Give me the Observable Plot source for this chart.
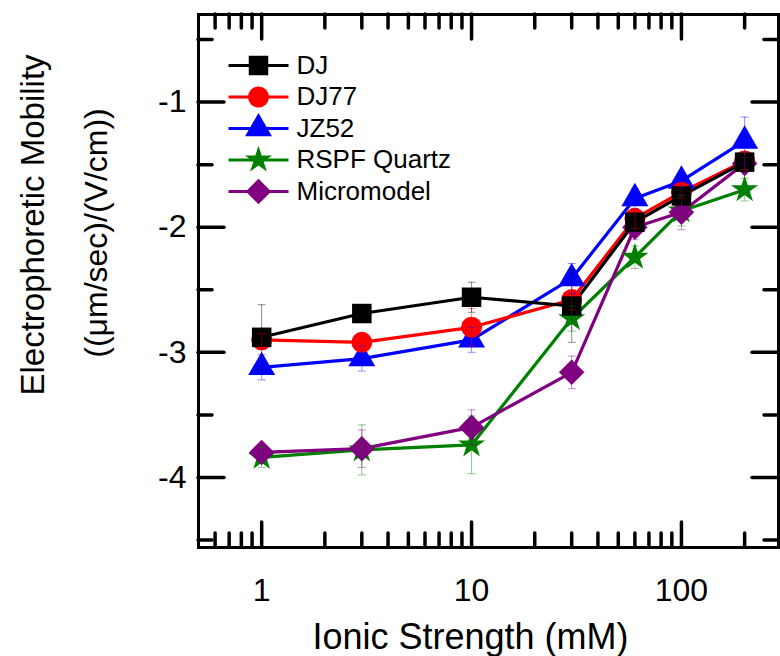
<!DOCTYPE html>
<html><head><meta charset="utf-8">
<script src="https://cdn.jsdelivr.net/npm/d3@7"></script>
<script src="https://cdn.jsdelivr.net/npm/@observablehq/plot@0.6"></script>
<style>body{margin:0;background:#fff;}</style>
</head><body><div id="chart"></div>
<script>
// ---- data ----
const ionicStrength = [1, 3, 10, 30, 60, 100, 200];
const seriesNames = ["DJ", "DJ77", "JZ52", "RSPF Quartz", "Micromodel"];
const mobilityDJ    = [-2.88, -2.69, -2.56, -2.63, -1.96, -1.75, -1.48];
const mobilityDJ77  = [-2.90, -2.92, -2.80, -2.58, -1.93, -1.72, -1.47];
const mobilityJZ52  = [-3.12, -3.05, -2.90, -2.41, -1.77, -1.63, -1.31];
const mobilityRSPF  = [-3.84, -3.78, -3.74, -2.73, -2.24, -1.87, -1.70];
const mobilityMicro = [-3.80, -3.77, -3.60, -3.16, -2.00, -1.88, -1.49];
const errDJ    = [0.26, 0.05, 0.12, 0.29, 0.06, 0.05, 0.05];
const errDJ77  = [0.05, 0.05, 0.15, 0.08, 0.08, 0.05, 0.07];
const errJZ52  = [0.10, 0.10, 0.10, 0.12, 0.08, 0.05, 0.19];
const errRSPF  = [0.08, 0.20, 0.23, 0.10, 0.09, 0.12, 0.09];
const errMicro = [0.05, 0.15, 0.14, 0.13, 0.10, 0.14, 0.05];
const xMajorTicks = [1, 10, 100];
const xMinorTicks = [0.6, 0.7, 0.8, 0.9, 2, 3, 4, 5, 6, 7, 8, 9, 20, 30, 40, 50, 60, 70, 80, 90, 200];
const yMajorTicks = [-1, -2, -3, -4];
const yMinorTicks = [-0.5, -1.5, -2.5, -3.5, -4.5];
const xTitle = "Ionic Strength (mM)";
const yTitle1 = "Electrophoretic Mobility";
const yTitle2 = "((\u03bcm/sec)/(V/cm))";

// ---- styling ----
const values = {"DJ": mobilityDJ, "DJ77": mobilityDJ77, "JZ52": mobilityJZ52, "RSPF Quartz": mobilityRSPF, "Micromodel": mobilityMicro};
const errs = {"DJ": errDJ, "DJ77": errDJ77, "JZ52": errJZ52, "RSPF Quartz": errRSPF, "Micromodel": errMicro};
const colors = {"DJ": "#000000", "DJ77": "#ff0000", "JZ52": "#0000ff", "RSPF Quartz": "#008000", "Micromodel": "#800080"};
const symbols = {"DJ": "square", "DJ77": "circle", "JZ52": "triangle", "RSPF Quartz": "star", "Micromodel": "diamond2"};
const sizes = {"DJ": 11, "DJ77": 10.5, "JZ52": 10, "RSPF Quartz": 8.5, "Micromodel": 11.5};
const drawOrder = ["JZ52", "DJ77", "RSPF Quartz", "Micromodel", "DJ"];

const rows = [];
for (const s of seriesNames) values[s].forEach((v, i) => rows.push({series: s, x: ionicStrength[i], y: v, err: errs[s][i]}));

const capSymbol = {draw(ctx) { ctx.moveTo(-4, 0); ctx.lineTo(4, 0); }};
const legendLine = {draw(ctx) { ctx.moveTo(-30, 0); ctx.lineTo(30, 0); }};

const W = 580, H = 533;
const font = "'Liberation Sans', Arial, Helvetica, sans-serif";

const marks = [];
for (const s of drawOrder) {
  const d = rows.filter(r => r.series === s);
  marks.push(Plot.line(d, {x: "x", y: "y", stroke: colors[s], strokeWidth: 3.2}));
}
for (const s of drawOrder) {
  const d = rows.filter(r => r.series === s);
  marks.push(Plot.dot(d, {x: "x", y: "y", symbol: symbols[s], r: sizes[s], fill: colors[s], stroke: null}));
}
for (const s of drawOrder) {
  const d = rows.filter(r => r.series === s);
  marks.push(Plot.ruleX(d, {x: "x", y1: r => r.y - r.err, y2: r => r.y + r.err, stroke: colors[s], strokeOpacity: 0.45, strokeWidth: 1}));
  marks.push(Plot.dot(d, {x: "x", y: r => r.y + r.err, symbol: capSymbol, stroke: colors[s], strokeOpacity: 0.45, strokeWidth: 1, fill: "none"}));
  marks.push(Plot.dot(d, {x: "x", y: r => r.y - r.err, symbol: capSymbol, stroke: colors[s], strokeOpacity: 0.45, strokeWidth: 1, fill: "none"}));
}
// inward ticks on all four sides
marks.push(
  Plot.tickX(xMajorTicks, {x: d => d, insetTop: H - 25, strokeWidth: 3.5, strokeLinecap: "round"}),
  Plot.tickX(xMinorTicks, {x: d => d, insetTop: H - 14, strokeWidth: 3.5, strokeLinecap: "round"}),
  Plot.tickX(xMajorTicks, {x: d => d, insetBottom: H - 25, strokeWidth: 3.5, strokeLinecap: "round"}),
  Plot.tickX(xMinorTicks, {x: d => d, insetBottom: H - 14, strokeWidth: 3.5, strokeLinecap: "round"}),
  Plot.tickY(yMajorTicks, {y: d => d, insetRight: W - 26, strokeWidth: 3.5, strokeLinecap: "round"}),
  Plot.tickY(yMinorTicks, {y: d => d, insetRight: W - 14, strokeWidth: 3.5, strokeLinecap: "round"}),
  Plot.tickY(yMajorTicks, {y: d => d, insetLeft: W - 26, strokeWidth: 3.5, strokeLinecap: "round"}),
  Plot.tickY(yMinorTicks, {y: d => d, insetLeft: W - 14, strokeWidth: 3.5, strokeLinecap: "round"}),
  Plot.frame({stroke: "black", strokeWidth: 3}),
  Plot.axisX({ticks: xMajorTicks, tickSize: 0, tickPadding: 31, fontSize: 32, tickFormat: d => String(d), label: null}),
  Plot.axisY({ticks: yMajorTicks, tickSize: 0, tickPadding: 12, fontSize: 32, tickFormat: d => String(d), label: null}),
  Plot.text([xTitle], {text: d => d, frameAnchor: "bottom", dx: -18, dy: 90, textAnchor: "middle", lineAnchor: "middle", fontSize: 36}),
  Plot.text([yTitle1], {text: d => d, frameAnchor: "left", dx: -165, dy: -56, rotate: -90, textAnchor: "middle", lineAnchor: "middle", fontSize: 33}),
  Plot.text([yTitle2], {text: d => d, frameAnchor: "left", dx: -102, dy: -48, rotate: -90, textAnchor: "middle", lineAnchor: "middle", fontSize: 32})
);
// legend
seriesNames.forEach((s, i) => {
  const dy = 51 + 31.5 * i;
  marks.push(
    Plot.dot([s], {frameAnchor: "top-left", dx: 60, dy, symbol: legendLine, stroke: colors[s], strokeWidth: 3.2, fill: "none"}),
    Plot.dot([s], {frameAnchor: "top-left", dx: 60, dy, symbol: symbols[s], r: sizes[s], fill: colors[s], stroke: null}),
    Plot.text([s], {frameAnchor: "top-left", dx: 98, dy, text: d => d, textAnchor: "start", lineAnchor: "middle", fontSize: 26})
  );
});

const chart = Plot.plot({
  width: 780, height: 656,
  marginLeft: 198, marginRight: 2, marginTop: 14, marginBottom: 109,
  x: {type: "log", domain: [0.5, 290]},
  y: {domain: [-4.56, -0.30]},
  style: {fontFamily: font, background: "white", color: "black"},
  marks
});
document.getElementById("chart").appendChild(chart);
</script>
</body></html>
